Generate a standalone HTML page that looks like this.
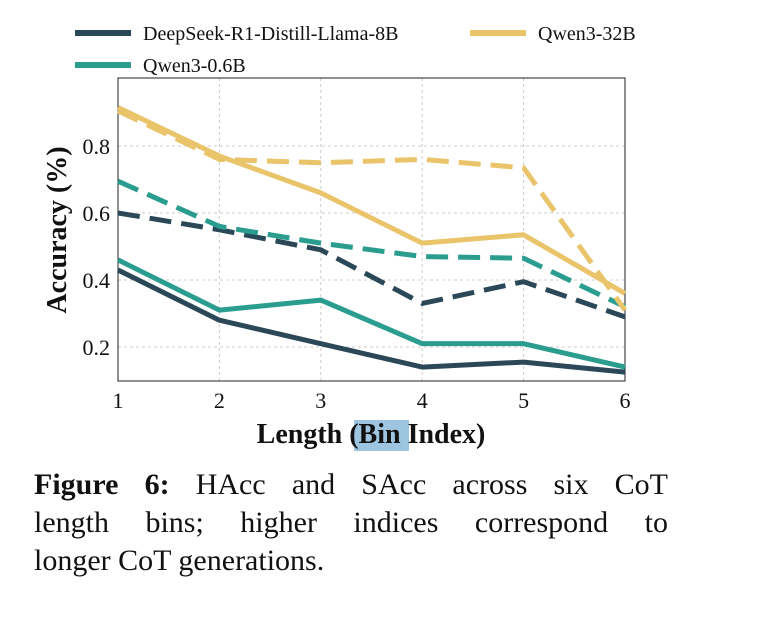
<!DOCTYPE html>
<html><head><meta charset="utf-8"><style>
body{margin:0;background:#fff;width:762px;height:638px;overflow:hidden;font-family:"Liberation Serif",serif;}
.cap{position:absolute;left:34px;top:466px;width:634px;font-size:30px;line-height:38px;color:#111;}
.cap .j{text-align:justify;text-align-last:justify;white-space:nowrap;}
</style></head><body>
<svg id="chart" width="762" height="460" style="position:absolute;left:0;top:0" font-family="Liberation Serif, serif"></svg>
<div class="cap"><div class="j"><b>Figure 6:</b> HAcc and SAcc across six CoT</div><div class="j">length bins; higher indices correspond to</div><div>longer CoT generations.</div></div>
<script>
const categories=[1,2,3,4,5,6];
const xTicks=[1,2,3,4,5,6];
const yTicks=[0.2,0.4,0.6,0.8];
const darkSolid=[0.43,0.28,0.21,0.14,0.155,0.125];
const darkDashed=[0.60,0.55,0.49,0.33,0.395,0.29];
const tealSolid=[0.46,0.31,0.34,0.21,0.21,0.14];
const tealDashed=[0.695,0.56,0.51,0.47,0.465,0.32];
const goldSolid=[0.915,0.77,0.66,0.51,0.535,0.36];
const goldDashed=[0.905,0.76,0.75,0.76,0.735,0.31];
const NS="http://www.w3.org/2000/svg";
const svg=document.getElementById('chart');
const L=118,R=625,T=78,B=381;
const x=v=>L+(v-1)/5*(R-L);
const y=v=>146-(v-0.8)/0.2*67;
function mk(t,a,p){const e=document.createElementNS(NS,t);for(const k in a)e.setAttribute(k,a[k]);(p||svg).appendChild(e);return e;}
yTicks.forEach(v=>{const g=mk('line',{x1:L,x2:R,y1:y(v),y2:y(v),stroke:'#ccc','stroke-dasharray':'3,3','stroke-width':1});


const t=mk('text',{x:L-8,y:y(v)+8,'text-anchor':'end','font-size':22,fill:'#111'});t.textContent=v.toFixed(1);

});
xTicks.forEach(v=>{const g=mk('line',{x1:x(v),x2:x(v),y1:T,y2:B,stroke:'#ccc','stroke-dasharray':'3,3','stroke-width':1});


const t=mk('text',{x:x(v),y:B+27,'text-anchor':'middle','font-size':22,fill:'#111'});t.textContent=v;

});
const fr=mk('rect',{x:L,y:T,width:R-L,height:B-T,fill:'none',stroke:'#222','stroke-width':1});


const series=[[darkSolid,'#2a4858',0,'dark-solid-line'],[darkDashed,'#2a4858',1,'dark-dashed-line'],[tealSolid,'#2a9d8f',0,'teal-solid-line'],[tealDashed,'#2a9d8f',1,'teal-dashed-line'],[goldSolid,'#e9c46a',0,'gold-solid-line'],[goldDashed,'#e9c46a',1,'gold-dashed-line']];
series.forEach(([d,c,dash,n])=>{const p=mk('polyline',{points:d.map((v,i)=>x(categories[i])+','+y(v)).join(' '),fill:'none',stroke:c,'stroke-width':5,'stroke-dasharray':dash?'22,10':'none','stroke-linejoin':'round'});

});
const hl=mk('rect',{x:354,y:420,width:55,height:31,fill:'#9ec5e0'});


const xt=mk('text',{x:371,y:443,'text-anchor':'middle','font-size':28,'font-weight':'bold',fill:'#111'});xt.textContent='Length (Bin Index)';


const yt=mk('text',{x:0,y:0,'text-anchor':'middle','font-size':28,'font-weight':'bold',fill:'#111',transform:'translate(66,230) rotate(-90)'});yt.textContent='Accuracy (%)';


const leg=[['DeepSeek-R1-Distill-Llama-8B','#2a4858',75,33],['Qwen3-0.6B','#2a9d8f',75,65],['Qwen3-32B','#e9c46a',470,33]];
leg.forEach(([lab,c,lx,ly])=>{const ln=mk('line',{x1:lx,x2:lx+56,y1:ly,y2:ly,stroke:c,'stroke-width':6});


const t=mk('text',{x:lx+68,y:ly+7,'font-size':20,fill:'#111'});t.textContent=lab;

});
</script>
</body></html>
